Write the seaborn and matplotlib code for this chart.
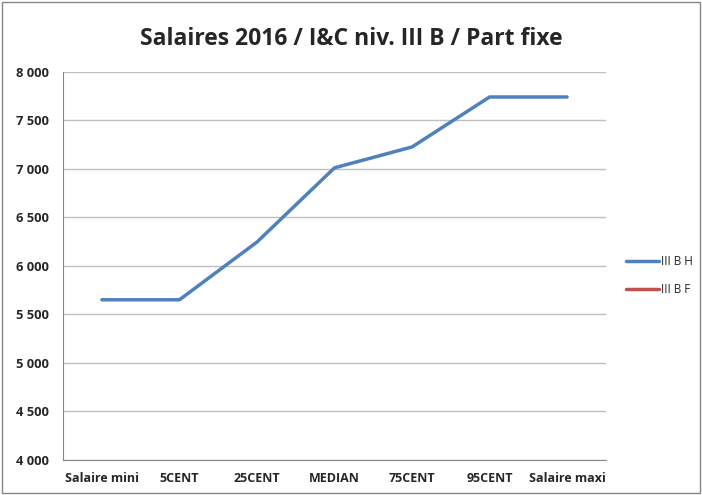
import pandas as pd
import numpy as np
import matplotlib.pyplot as plt
import seaborn as sns
from matplotlib.ticker import FuncFormatter

# Data
categories = ["Salaire mini", "5CENT", "25CENT", "MEDIAN", "75CENT", "95CENT", "Salaire maxi"]
iii_b_h = [5650, 5650, 6245, 7010, 7225, 7740, 7740]
iii_b_f = [np.nan] * 7

df = pd.DataFrame({
    "categorie": categories * 2,
    "salaire": iii_b_h + iii_b_f,
    "serie": ["III B H"] * 7 + ["III B F"] * 7,
})
df["pos"] = list(range(7)) * 2

sns.set_style("white")
plt.rcParams["font.family"] = ["Open Sans", "DejaVu Sans"]

fig = plt.figure(figsize=(7.02, 4.95), dpi=100)
ax = fig.add_axes([0.09, 0.071, 0.773, 0.784])

palette = {"III B H": "#4F81BD", "III B F": "#C0504D"}
sns.lineplot(data=df, x="pos", y="salaire", hue="serie", palette=palette,
             linewidth=2.5, ax=ax, legend=False)

ax.set_xlim(-0.5, 6.5)
ax.set_ylim(4000, 8000)
ax.set_yticks(np.arange(4000, 8001, 500))
ax.yaxis.set_major_formatter(FuncFormatter(lambda v, p: f"{int(v):,}".replace(",", " ")))
ax.set_xticks(range(7))
ax.set_xticklabels(categories)
ax.set_xticks(np.arange(-0.5, 7, 1), minor=True)
ax.tick_params(axis="x", which="major", length=0, pad=9)
ax.tick_params(axis="x", which="minor", length=5, color="#868686", width=0.8, direction="out")
ax.tick_params(axis="y", length=5, color="#868686", width=0.8, direction="out", pad=5)
for lbl in ax.get_xticklabels():
    lbl.set_fontweight("bold")
    lbl.set_fontsize(9)
for lbl in ax.get_yticklabels():
    lbl.set_fontweight("bold")
    lbl.set_fontsize(9.3)
ax.set_xlabel("")
ax.set_ylabel("")
ax.grid(axis="y", color="#BFBFBF", linewidth=1)
ax.set_axisbelow(True)
for s in ["top", "right"]:
    ax.spines[s].set_visible(False)
ax.spines["left"].set_color("#868686")
ax.spines["bottom"].set_color("#868686")

fig.text(0.5, 0.921, "Salaires 2016 / I&C niv. III B / Part fixe", ha="center",
         va="center", fontsize=16.5, fontweight="bold")

handles = [plt.Line2D([], [], color=palette[k], linewidth=2.5) for k in ["III B H", "III B F"]]
fig.legend(handles, ["III B H", "III B F"], loc="center left", bbox_to_anchor=(0.888, 0.443),
           frameon=False, fontsize=8.5, handlelength=2.8, handletextpad=0.15, labelspacing=1.25,
           borderaxespad=0, borderpad=0.2)

# chart border
fig.patches.append(plt.Rectangle((0.003, 0.004), 0.994, 0.992, transform=fig.transFigure,
                                 fill=False, edgecolor="#868686", linewidth=1))

plt.savefig("out.png", dpi=100)
